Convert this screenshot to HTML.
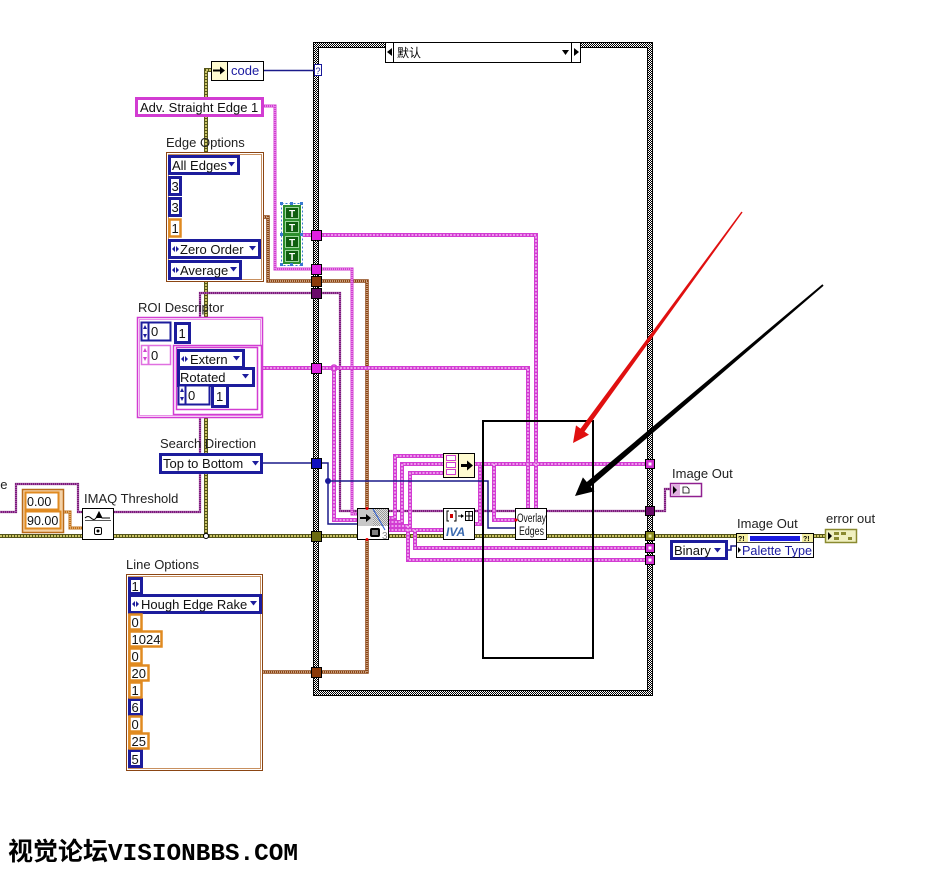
<!DOCTYPE html>
<html><head><meta charset="utf-8">
<style>
html,body{margin:0;padding:0;background:#fff;}
svg{display:block;}
text{font-family:"Liberation Sans","Noto Sans CJK SC",sans-serif;}
</style></head><body>
<svg width="934" height="870" viewBox="0 0 934 870" xmlns="http://www.w3.org/2000/svg">
<defs>
<pattern id="chk" width="2" height="2" patternUnits="userSpaceOnUse"><rect width="2" height="2" fill="#fff"/><rect width="1" height="1" fill="#000"/><rect x="1" y="1" width="1" height="1" fill="#000"/></pattern>
<pattern id="chk2" width="2" height="2" patternUnits="userSpaceOnUse"><rect width="2" height="2" fill="#e0e0e0"/><rect width="1" height="1" fill="#999"/><rect x="1" y="1" width="1" height="1" fill="#999"/></pattern>
</defs>

<!-- Case structure frame -->
<rect x="313" y="42" width="340" height="654" fill="url(#chk)"/>
<rect x="313.5" y="42.5" width="339" height="653" fill="none" stroke="#000"/>
<rect x="318.5" y="47.5" width="329" height="643" fill="#fff" stroke="#000"/>

<!-- selector -->
<rect x="385.5" y="42.5" width="195" height="20" fill="#fff" stroke="#000"/>
<line x1="393.5" y1="42" x2="393.5" y2="62" stroke="#000"/>
<polygon points="387,52 392,48 392,56" fill="#000"/>
<text x="397" y="57" font-size="12" font-family="Noto Sans CJK SC, sans-serif">默认</text>
<polygon points="562,50 569,50 565.5,55" fill="#000"/>
<line x1="571.5" y1="42" x2="571.5" y2="62" stroke="#000"/>
<polygon points="574,48 579,52 574,56" fill="#000"/>

<!-- ============ WIRES ============ -->
<g fill="none">
<path d="M263,70.5 H314" stroke="#1a1a8a" stroke-width="1.5"/>
<path d="M211,70 H206 V536 M0,536 H648 M653,536 H736 M814,536 H825" stroke="#55551a" stroke-width="4"/>
<path d="M211,70 H206 V536 M0,536 H648 M653,536 H736 M814,536 H825" stroke="#f2ea80" stroke-width="1.5" stroke-dasharray="2 1"/>
<path d="M0,512 H16 V484 H78 V512 H83 M113,512 H200 V293 H340 V511 H648 M653,511 H665 V489 H670" stroke="#7a1a7a" stroke-width="2.2"/>
<path d="M0,512 H16 V484 H78 V512 H83 M113,512 H200 V293 H340 V511 H648 M653,511 H665 V489 H670" stroke="#e8b0e8" stroke-width="0.8" stroke-dasharray="1 1"/>
<path d="M64,512 H70 V528 H83" stroke="#c0701a" stroke-width="3"/>
<path d="M64,512 H70 V528 H83" stroke="#fde0b0" stroke-width="1" stroke-dasharray="1 1"/>
<path d="M264,217 H268 V281 H367 V508 M263,672 H367 V540" stroke="#8b4513" stroke-width="3.5"/>
<path d="M264,217 H268 V281 H367 V508 M263,672 H367 V540" stroke="#f0d8c0" stroke-width="1.2" stroke-dasharray="1 1"/>
<!-- string wire (thin pink) -->
<path d="M263,106 H275 V269 H352 V514 H357" stroke="#d23cd2" stroke-width="3"/>
<path d="M263,106 H275 V269 H352 V514 H357" stroke="#fbd0fb" stroke-width="1" stroke-dasharray="1 1"/>
</g>
<g fill="none" stroke="#d23cd2" stroke-width="4">
<path d="M303,235 H536 V508"/>
<path d="M263,368 H528 V508"/>
<path d="M334,368 V520 H357"/>
<path d="M388,518 H395 V456 H443"/>
<path d="M388,522 H402 V464 H443"/>
<path d="M388,526 H410 V473 H443"/>
<path d="M388,530 H443"/>
<path d="M408,526 V560 H648"/>
<path d="M415,530 V548 H648"/>
<path d="M474,464 H648"/>
<path d="M494,464 V520 H515"/>
<path d="M474,524 H480 V466"/>
</g>
<g fill="none" stroke="#fbd0fb" stroke-width="1.3" stroke-dasharray="2 1.5">
<path d="M303,235 H536 V508"/>
<path d="M263,368 H528 V508"/>
<path d="M334,368 V520 H357"/>
<path d="M388,518 H395 V456 H443"/>
<path d="M388,522 H402 V464 H443"/>
<path d="M388,526 H410 V473 H443"/>
<path d="M388,530 H443"/>
<path d="M408,526 V560 H648"/>
<path d="M415,530 V548 H648"/>
<path d="M474,464 H648"/>
<path d="M494,464 V520 H515"/>
<path d="M474,524 H480 V466"/>
</g>
<circle cx="334" cy="368" r="3" fill="none" stroke="#d23cd2" stroke-width="1.5"/>
<path d="M262,463 H328 V524 H357 M328,481 H488 V528 H515" fill="none" stroke="#1a1a8a" stroke-width="1.5"/>
<path d="M727,550 H731 V546 H736" fill="none" stroke="#1a1a8a" stroke-width="1.5"/>
<circle cx="328" cy="481" r="3" fill="#1a1a9a"/>
<circle cx="206" cy="536" r="2.5" fill="#fff" stroke="#000"/>

<!-- ============ TUNNELS ============ -->
<g stroke="#000" stroke-width="1">
<rect x="311.5" y="230.5" width="10" height="10" fill="#e020e0"/>
<rect x="311.5" y="264.5" width="10" height="10" fill="#e020e0"/>
<rect x="311.5" y="276.5" width="10" height="10" fill="#8b3a0a"/>
<rect x="311.5" y="288.5" width="10" height="10" fill="#6a0a6a"/>
<rect x="311.5" y="363.5" width="10" height="10" fill="#e020e0"/>
<rect x="311.5" y="458.5" width="10" height="10" fill="#1010c0"/>
<rect x="311.5" y="531.5" width="10" height="10" fill="#6b6b10"/>
<rect x="311.5" y="667.5" width="10" height="10" fill="#8b3a0a"/>
<rect x="645.5" y="459.5" width="9" height="9" fill="#d030d0"/>
<rect x="645.5" y="506.5" width="9" height="9" fill="#6a0a6a"/>
<rect x="645.5" y="531.5" width="9" height="9" fill="#8a8a20"/>
<rect x="645.5" y="543.5" width="9" height="9" fill="#d030d0"/>
<rect x="645.5" y="555.5" width="9" height="9" fill="#d030d0"/>
</g>
<rect x="648.5" y="462.5" width="3" height="3" fill="#fff"/>
<rect x="648.5" y="534.5" width="3" height="3" fill="#f0f0a0"/>
<rect x="648.5" y="546.5" width="3" height="3" fill="#fff"/>
<rect x="648.5" y="558.5" width="3" height="3" fill="#fff"/>
<rect x="314.5" y="64.5" width="7" height="11" fill="#fff" stroke="#1a1a9a"/>
<text x="315.5" y="74" font-size="9" fill="#1a1a9a">?</text>

<!-- ============ TOP LEFT CONTROLS ============ -->
<rect x="211.5" y="61.5" width="52" height="19" fill="#fff" stroke="#000"/>
<rect x="212" y="62" width="15" height="18" fill="#fffbd0"/>
<line x1="227.5" y1="61" x2="227.5" y2="81" stroke="#000"/>
<path d="M213,70.5 H221" stroke="#000" stroke-width="2"/>
<polygon points="220,66.5 225,70.5 220,74.5" fill="#000"/>
<text x="231" y="75" font-size="13" fill="#1a1aa0">code</text>

<rect x="136.5" y="98.5" width="126" height="17" fill="#fff" stroke="#d23cd2" stroke-width="3"/>
<text x="140" y="112" font-size="13" fill="#111">Adv. Straight Edge 1</text>

<text x="166" y="147" font-size="13" fill="#222">Edge Options</text>
<rect x="166.5" y="152.5" width="97" height="129" fill="#fff" stroke="#8b4513"/>
<rect x="168.5" y="154.5" width="93" height="125" fill="none" stroke="#c89060"/>
<g fill="#fff" stroke="#1c1c9c" stroke-width="3">
<rect x="169.5" y="156.5" width="69" height="17"/>
<rect x="169.5" y="177.5" width="11" height="17"/>
<rect x="169.5" y="198.5" width="11" height="17"/>
<rect x="169.5" y="240.5" width="90" height="17"/>
<rect x="169.5" y="261.5" width="71" height="17"/>
</g>
<rect x="169.5" y="219.5" width="11" height="17" fill="#fff" stroke="#e08a20" stroke-width="2.5"/>
<g font-size="13" fill="#111">
<text x="172" y="170">All Edges</text>
<text x="171.5" y="191">3</text>
<text x="171.5" y="212">3</text>
<text x="171.5" y="233">1</text>
<text x="180" y="254">Zero Order</text>
<text x="180" y="275">Average</text>
</g>
<g fill="#1c1c9c">
<polygon points="228,162 235,162 231.5,166.5"/>
<polygon points="249,246 256,246 252.5,250.5"/>
<polygon points="230,267 237,267 233.5,271.5"/>
<polygon points="172,249 175,246 175,252"/>
<polygon points="176,246 179,249 176,252"/>
<polygon points="172,270 175,267 175,273"/>
<polygon points="176,267 179,270 176,273"/>
</g>

<rect x="281.5" y="203.5" width="21" height="62" fill="none" stroke="#3a7ad0" stroke-dasharray="2 2"/>
<rect x="283" y="205" width="18" height="59" fill="#2d8f2d"/>
<g fill="#0f5f0f" stroke="#9fd89f">
<rect x="285.5" y="207.5" width="13" height="11"/>
<rect x="285.5" y="221.5" width="13" height="11"/>
<rect x="285.5" y="236.5" width="13" height="11"/>
<rect x="285.5" y="250.5" width="13" height="11"/>
</g>
<g font-size="10" font-weight="bold" fill="#fff">
<text x="289" y="217">T</text><text x="289" y="231">T</text><text x="289" y="246">T</text><text x="289" y="260">T</text>
</g>
<g fill="#3a7ad0">
<rect x="280" y="202" width="3" height="3"/><rect x="290" y="202" width="3" height="3"/><rect x="300" y="202" width="3" height="3"/>
<rect x="280" y="233" width="3" height="3"/><rect x="300" y="233" width="3" height="3"/>
<rect x="280" y="263" width="3" height="3"/><rect x="290" y="263" width="3" height="3"/><rect x="300" y="263" width="3" height="3"/>
</g>

<!-- ROI Descriptor -->
<text x="138" y="312" font-size="13" fill="#222">ROI Descriptor</text>
<rect x="137.5" y="317.5" width="125" height="100" fill="#fff" stroke="#d23cd2" stroke-width="1.5"/>
<rect x="139.5" y="319.5" width="121" height="96" fill="none" stroke="#e890e8"/>
<rect x="141.5" y="322.5" width="29" height="18" fill="#fff" stroke="#1c1c9c" stroke-width="2"/>
<line x1="148.5" y1="322" x2="148.5" y2="341" stroke="#1c1c9c" stroke-width="2"/>
<polygon points="143,329 147,329 145,325" fill="#1c1c9c"/><polygon points="143,334 147,334 145,338" fill="#1c1c9c"/>
<text x="151" y="336" font-size="13" fill="#111">0</text>
<rect x="175.5" y="323.5" width="14" height="19" fill="#fff" stroke="#1c1c9c" stroke-width="3"/>
<text x="178.5" y="338" font-size="13" fill="#111">1</text>
<rect x="141.5" y="345.5" width="29" height="19" fill="#fff" stroke="#e070e0" stroke-width="1.5"/>
<line x1="148.5" y1="345" x2="148.5" y2="365" stroke="#e070e0" stroke-width="2"/>
<polygon points="143,352 147,352 145,348" fill="#d040d0"/><polygon points="143,357 147,357 145,361" fill="#d040d0"/>
<text x="151" y="360" font-size="13" fill="#111">0</text>
<rect x="173.5" y="345.5" width="88" height="69" fill="#fff" stroke="#d23cd2" stroke-width="1.5"/>
<rect x="176.5" y="347.5" width="81" height="62" fill="none" stroke="#d23cd2" stroke-width="1.5"/>
<rect x="178.5" y="350.5" width="65" height="17" fill="#fff" stroke="#1c1c9c" stroke-width="3"/>
<rect x="178.5" y="368.5" width="75" height="17" fill="#fff" stroke="#1c1c9c" stroke-width="3"/>
<text x="190" y="364" font-size="13" fill="#111">Extern</text>
<text x="180" y="382" font-size="13" fill="#111">Rotated</text>
<g fill="#1c1c9c">
<polygon points="181,359 184,356 184,362"/><polygon points="185,356 188,359 185,362"/>
<polygon points="233,356 240,356 236.5,360.5"/>
<polygon points="242,374 249,374 245.5,378.5"/>
</g>
<rect x="178.5" y="385.5" width="31" height="19" fill="#fff" stroke="#1c1c9c" stroke-width="2"/>
<line x1="185.5" y1="385" x2="185.5" y2="405" stroke="#1c1c9c" stroke-width="2"/>
<polygon points="180,392 184,392 182,388" fill="#1c1c9c"/><polygon points="180,397 184,397 182,401" fill="#1c1c9c"/>
<text x="188" y="400" font-size="13" fill="#111">0</text>
<rect x="212.5" y="385.5" width="15" height="21" fill="#fff" stroke="#1c1c9c" stroke-width="3"/>
<text x="216" y="401" font-size="13" fill="#111">1</text>

<text x="160" y="448" font-size="13" fill="#222">Search Direction</text>
<rect x="160.5" y="454.5" width="101" height="18" fill="#fff" stroke="#1c1c9c" stroke-width="3"/>
<text x="163" y="468" font-size="13" fill="#111">Top to Bottom</text>
<polygon points="252,461 259,461 255.5,465.5" fill="#1c1c9c"/>

<text x="-7" y="489" font-size="13" fill="#222">ge</text>
<rect x="22.5" y="489.5" width="41" height="43" fill="#f4d2a8" stroke="#b86a1a" stroke-width="1.5"/>
<rect x="25.5" y="492.5" width="33" height="17" fill="#fff" stroke="#e08a20" stroke-width="2"/>
<rect x="25.5" y="511.5" width="35" height="17" fill="#fff" stroke="#e08a20" stroke-width="2"/>
<text x="27" y="506" font-size="12.5" fill="#111">0.00</text>
<text x="27" y="525" font-size="12.5" fill="#111">90.00</text>
<text x="84" y="503" font-size="13" fill="#222">IMAQ Threshold</text>
<rect x="82.5" y="508.5" width="31" height="31" fill="#fff" stroke="#000"/>
<path d="M85,518 q3,-3 6,0 q3,3 5,0 l3,-6 l3,6 h8" fill="none" stroke="#000"/>
<polygon points="96,518 99,512 102,518" fill="#000"/>
<line x1="85" y1="520.5" x2="111" y2="520.5" stroke="#555"/>
<rect x="94.5" y="527.5" width="7" height="7" rx="1.5" fill="#fff" stroke="#000"/>
<circle cx="98" cy="531" r="1.5" fill="#000"/>

<text x="126" y="569" font-size="13" fill="#222">Line Options</text>
<rect x="126.5" y="574.5" width="136" height="196" fill="#fff" stroke="#8b4513"/>
<rect x="128.5" y="576.5" width="132" height="192" fill="none" stroke="#c89060"/>
<g fill="#fff" stroke="#1c1c9c" stroke-width="3">
<rect x="129.5" y="578.5" width="12" height="15"/>
<rect x="129.5" y="595.5" width="131" height="17"/>
<rect x="129.5" y="699.5" width="12" height="15"/>
<rect x="129.5" y="750.5" width="12" height="16"/>
</g>
<g fill="#fff" stroke="#e08a20" stroke-width="2.5">
<rect x="129.5" y="614.5" width="12" height="15"/>
<rect x="129.5" y="631.5" width="32" height="15"/>
<rect x="129.5" y="648.5" width="12" height="15"/>
<rect x="129.5" y="665.5" width="19" height="15"/>
<rect x="129.5" y="682.5" width="12" height="15"/>
<rect x="129.5" y="716.5" width="12" height="15"/>
<rect x="129.5" y="733.5" width="19" height="15"/>
</g>
<g font-size="13" fill="#111">
<text x="131.5" y="591">1</text>
<text x="141" y="609">Hough Edge Rake</text>
<text x="131.5" y="627">0</text>
<text x="131.5" y="644">1024</text>
<text x="131.5" y="661">0</text>
<text x="131.5" y="678">20</text>
<text x="131.5" y="695">1</text>
<text x="131.5" y="712">6</text>
<text x="131.5" y="729">0</text>
<text x="131.5" y="746">25</text>
<text x="131.5" y="764">5</text>
</g>
<g fill="#1c1c9c">
<polygon points="132,604 135,601 135,607"/><polygon points="136,601 139,604 136,607"/>
<polygon points="250,601 257,601 253.5,605.5"/>
</g>

<!-- ============ NODES INSIDE CASE ============ -->
<rect x="357.5" y="508.5" width="31" height="31" fill="#fff" stroke="#000"/>
<rect x="358" y="509" width="15" height="17" fill="#c8c8c8"/>
<rect x="373" y="509" width="15" height="17" fill="url(#chk2)"/>
<line x1="373" y1="509" x2="385" y2="530" stroke="#2a5ad0" stroke-width="1"/>
<path d="M360,518 H368" stroke="#000" stroke-width="2"/>
<polygon points="366,514 371,518 366,522" fill="#000"/>
<rect x="370" y="528" width="10" height="9" rx="2" fill="#000"/>
<line x1="373" y1="530" x2="373" y2="535" stroke="#fff"/><line x1="375" y1="530" x2="375" y2="535" stroke="#fff"/><line x1="377" y1="530" x2="377" y2="535" stroke="#fff"/>
<text x="382" y="539" font-size="10" fill="#888">3</text>
<circle cx="367" cy="508.5" r="1.5" fill="#e00"/>
<circle cx="367" cy="539.5" r="1.5" fill="#e00"/>

<rect x="443.5" y="453.5" width="31" height="24" fill="#fffbd0" stroke="#000"/>
<line x1="458.5" y1="453" x2="458.5" y2="478" stroke="#000"/>
<g fill="#fff" stroke="#d23cd2" stroke-width="1">
<rect x="446.5" y="455.5" width="9" height="5"/>
<rect x="446.5" y="462.5" width="9" height="5"/>
<rect x="446.5" y="469.5" width="9" height="5"/>
</g>
<path d="M461,465.5 H468" stroke="#000" stroke-width="3"/>
<polygon points="467,460.5 473,465.5 467,470.5" fill="#000"/>

<rect x="443.5" y="508.5" width="31" height="31" fill="#fff" stroke="#000"/>
<path d="M449,511 h-2 v10 h2 M454,511 h2 v10 h-2" fill="none" stroke="#000"/>
<rect x="450" y="514" width="3" height="4" fill="#c00"/>
<path d="M458,516 h4" stroke="#000"/>
<polygon points="461,514 464,516 461,518" fill="#000"/>
<rect x="465.5" y="511.5" width="7" height="9" fill="none" stroke="#000"/>
<line x1="469" y1="511" x2="469" y2="521" stroke="#000"/><line x1="465" y1="516" x2="473" y2="516" stroke="#000"/>
<text x="446" y="536" font-size="12" font-weight="bold" font-style="italic" fill="#3a6ab0">IVA</text>

<rect x="515.5" y="508.5" width="31" height="31" fill="#fff" stroke="#000"/>
<text x="517" y="522" font-size="11.5" fill="#111" textLength="29" lengthAdjust="spacingAndGlyphs">Overlay</text>
<text x="519" y="535" font-size="11.5" fill="#111" textLength="25" lengthAdjust="spacingAndGlyphs">Edges</text>
<circle cx="516" cy="520" r="1.5" fill="#e00"/>

<rect x="483" y="421" width="110" height="237" fill="none" stroke="#000" stroke-width="2"/>

<!-- ============ RIGHT SIDE ============ -->
<text x="672" y="478" font-size="13" fill="#222">Image Out</text>
<rect x="670.5" y="483.5" width="31" height="13" fill="#fff" stroke="#902090" stroke-width="1.5"/>
<rect x="671" y="484" width="9" height="12" fill="#e0b0e0"/>
<polygon points="673,486 677,490 673,494" fill="#000"/>
<path d="M683,487 h4 l2,2 v4 h-6 z" fill="none" stroke="#000" stroke-width="0.8"/>

<text x="737" y="528" font-size="13" fill="#222">Image Out</text>
<rect x="736.5" y="533.5" width="77" height="24" fill="#fff" stroke="#000"/>
<rect x="737" y="534" width="11" height="8" fill="#f4eea0"/>
<rect x="802" y="534" width="11" height="8" fill="#f4eea0"/>
<text x="738" y="541" font-size="7" font-weight="bold" fill="#000">?!</text>
<text x="803" y="541" font-size="7" font-weight="bold" fill="#000">?!</text>
<rect x="750" y="536" width="50" height="5" fill="#1a1ae0"/>
<line x1="736" y1="542.5" x2="814" y2="542.5" stroke="#000" stroke-width="0.7"/>
<polygon points="738,547 741,550 738,553" fill="#000"/>
<text x="742" y="555" font-size="13" fill="#1a1aa0" textLength="70" lengthAdjust="spacingAndGlyphs">Palette Type</text>

<text x="826" y="523" font-size="13" fill="#222">error out</text>
<rect x="825.5" y="529.5" width="31" height="13" fill="#f0f0c0" stroke="#8a8a30" stroke-width="1.5"/>
<polygon points="828,532 832,536 828,540" fill="#000"/>
<rect x="834" y="532" width="5" height="3" fill="#8a8a30"/><rect x="841" y="532" width="5" height="3" fill="#8a8a30"/>
<rect x="834" y="537" width="5" height="3" fill="#8a8a30"/><rect x="848" y="537" width="4" height="3" fill="#8a8a30"/>

<rect x="671.5" y="541.5" width="55" height="17" fill="#fff" stroke="#1c1c9c" stroke-width="3"/>
<text x="674" y="555" font-size="13" fill="#111">Binary</text>
<polygon points="714,548 721,548 717.5,552.5" fill="#1c1c9c"/>

<!-- ============ ARROWS ============ -->
<polygon points="742.6,212.4 584.5,431.6 589.0,434.8 573,443 576.0,425.4 580.5,428.6 741.4,211.6" fill="#e01010"/>
<polygon points="823.6,285.8 590.6,486.6 594.5,491.2 575,496 582.9,477.4 586.8,482.0 822.4,284.2" fill="#000"/>

<!-- watermark -->
<text x="8" y="860" font-size="25" font-weight="bold" fill="#000"><tspan font-family="Noto Sans CJK SC, sans-serif">视觉论坛</tspan><tspan font-family="Liberation Mono, monospace" font-size="24" textLength="190" lengthAdjust="spacingAndGlyphs">VISIONBBS.COM</tspan></text>
</svg>
</body></html>
